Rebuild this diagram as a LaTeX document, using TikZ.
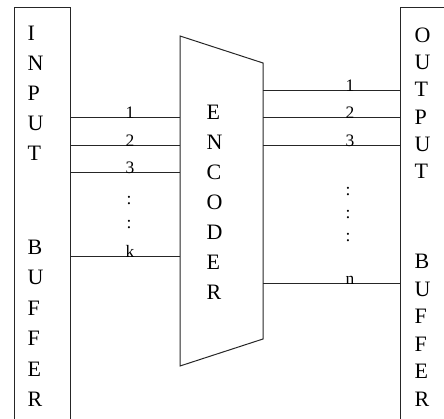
\documentclass[tikz,border=0pt]{standalone}
\usepackage{fontspec}
\setmainfont{Liberation Serif}
\begin{document}
\begin{tikzpicture}[x=1pt, y=-1pt, line width=1pt,
  wire/.style={draw=black!85},
  buf/.style={draw=black!85, minimum width=#1, minimum height=422pt, inner sep=0pt},
  word/.style={anchor=north west, align=left, inner sep=0pt, font=\fontsize{22}{#1}\selectfont},
  lbl/.style={anchor=base, inner sep=0pt, font=\fontsize{17.5}{17.5}\selectfont},
  dots/.style={inner sep=0pt, font=\fontsize{17.5}{17.5}\selectfont}]
  \useasboundingbox (0,0) rectangle (444,419);
  \clip (0,0) rectangle (444,419);

  \node (inbuf) [buf=56pt] at (42,219) {};
  \node (outbuf) [buf=60pt] at (430,219) {};

  \coordinate (enctl) at (180,36);
  \coordinate (enctr) at (263,63);
  \coordinate (encbr) at (263,339);
  \coordinate (encbl) at (180,366);
  \draw [wire] (enctl) -- (enctr) -- (encbr) -- (encbl) -- cycle;

  \node (inputtxt) [word=30pt] at (27,25.5) {I\\N\\P\\U\\T};
  \node (inbuftxt) [word=30.5pt] at (27,239.5) {B\\U\\F\\F\\E\\R};
  \node (enctxt) [word=30pt] at (206,104.5) {E\\N\\C\\O\\D\\E\\R};
  \node (outputtxt) [word=27.2pt] at (414,27.5) {O\\U\\T\\P\\U\\T};
  \node (outbuftxt) [word=27.6pt] at (414,253.5) {B\\U\\F\\F\\E\\R};

  \coordinate (in1) at (180,118);
  \coordinate (in2) at (180,146);
  \coordinate (in3) at (180,173);
  \coordinate (ink) at (180,257);
  \draw [wire] (inbuf.east |- in1) -- (in1);
  \draw [wire] (inbuf.east |- in2) -- (in2);
  \draw [wire] (inbuf.east |- in3) -- (in3);
  \draw [wire] (inbuf.east |- ink) -- (ink);

  \node (lin1) [lbl] at (130,119) {1};
  \node (lin2) [lbl] at (130,147) {2};
  \node (lin3) [lbl] at (130,174) {3};
  \node (link) [lbl] at (130,258) {k};
  \node (dotsin1) [dots] at (129,201) {:};
  \node (dotsin2) [dots] at (129,225) {:};

  \coordinate (out1) at (263,91);
  \coordinate (out2) at (263,118);
  \coordinate (out3) at (263,146);
  \coordinate (outn) at (263,284);
  \draw [wire] (out1) -- (outbuf.west |- out1);
  \draw [wire] (out2) -- (outbuf.west |- out2);
  \draw [wire] (out3) -- (outbuf.west |- out3);
  \draw [wire] (outn) -- (outbuf.west |- outn);

  \node (lout1) [lbl] at (350,92) {1};
  \node (lout2) [lbl] at (350,119) {2};
  \node (lout3) [lbl] at (350,147) {3};
  \node (loutn) [lbl] at (350,285) {n};
  \node (dotsout1) [dots] at (348,192) {:};
  \node (dotsout2) [dots] at (348,215) {:};
  \node (dotsout3) [dots] at (348,238) {:};
\end{tikzpicture}
\end{document}
